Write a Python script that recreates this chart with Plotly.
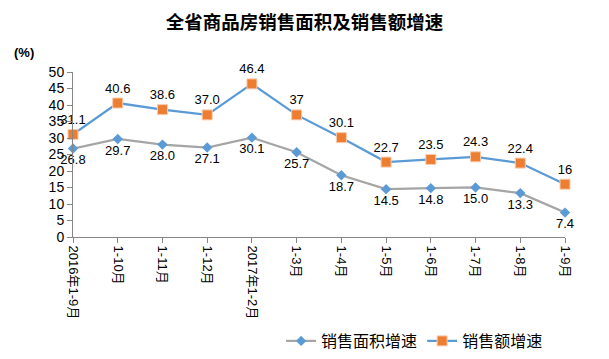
import plotly.graph_objects as go

categories = ["2016年1-9月", "1-10月", "1-11月", "1-12月", "2017年1-2月", "1-3月",
              "1-4月", "1-5月", "1-6月", "1-7月", "1-8月", "1-9月"]
area_growth = [26.8, 29.7, 28.0, 27.1, 30.1, 25.7, 18.7, 14.5, 14.8, 15.0, 13.3, 7.4]
area_labels = ["26.8", "29.7", "28.0", "27.1", "30.1", "25.7", "18.7", "14.5", "14.8", "15.0", "13.3", "7.4"]
amount_growth = [31.1, 40.6, 38.6, 37.0, 46.4, 37, 30.1, 22.7, 23.5, 24.3, 22.4, 16]
amount_labels = ["31.1", "40.6", "38.6", "37.0", "46.4", "37", "30.1", "22.7", "23.5", "24.3", "22.4", "16"]

FONT = "Liberation Sans, Noto Sans CJK SC, sans-serif"
CJK = "Noto Sans CJK SC, sans-serif"
x = list(range(len(categories)))

# The page body has an 8px margin, so the figure is sized to fit inside the window.
W, H = 593, 343
L, T, R, B = 65, 64, 36, 114
PW, PH = W - L - R, H - T - B

fig = go.Figure()
fig.add_trace(go.Scatter(
    x=x, y=area_growth, name="销售面积增速", mode="lines+markers+text",
    line=dict(color="#A5A5A5", width=2.25),
    marker=dict(symbol="diamond", size=8, color="#5B9BD5"),
    text=area_labels, textposition="bottom center",
    textfont=dict(size=13, color="#000000", family=FONT),
    cliponaxis=False,
))
fig.add_trace(go.Scatter(
    x=x, y=amount_growth, name="销售额增速", mode="lines+markers+text",
    line=dict(color="#5B9BD5", width=2.25),
    marker=dict(symbol="square", size=10, color="#ED7D31", line=dict(color="#F8CBAD", width=1)),
    text=amount_labels, textposition="top center",
    textfont=dict(size=13, color="#000000", family=FONT),
    cliponaxis=False,
))

fig.update_layout(
    width=W, height=H,
    margin=dict(l=L, r=R, t=T, b=B, autoexpand=False),
    paper_bgcolor="white", plot_bgcolor="white",
    font=dict(family=FONT, size=13, color="#000000"),
    title=dict(text="<b>全省商品房销售面积及销售额增速</b>", x=0.5, xanchor="center",
               y=1 - 15 / H, yanchor="middle",
               font=dict(size=18.5, family=CJK, color="#000000")),
    showlegend=True,
    legend=dict(orientation="h", x=0.423, y=(237 - 341) / PH, xanchor="left", yanchor="middle",
                font=dict(size=16, family=CJK),
                itemwidth=30, tracegroupgap=0, bgcolor="rgba(0,0,0,0)"),
    xaxis=dict(
        range=[0, len(categories) - 1], tickmode="array", tickvals=x, ticktext=categories,
        tickangle=90, ticks="outside", ticklen=5, tickcolor="#868686", automargin=False,
        showline=True, linecolor="#868686", linewidth=1, showgrid=False, zeroline=False,
        tickfont=dict(size=13, family=FONT),
    ),
    yaxis=dict(
        range=[0, 50], dtick=5, ticks="outside", ticklen=5, tickcolor="#868686", automargin=False,
        showline=True, linecolor="#868686", linewidth=1, showgrid=False, zeroline=False,
        tickfont=dict(size=14, family=FONT),
    ),
    annotations=[dict(text="<b>(%)</b>", x=(16 - L) / PW, y=(237 - 52) / PH,
                      xref="paper", yref="paper", xanchor="center", yanchor="middle",
                      showarrow=False, font=dict(size=13, family=FONT))],
)

fig.write_html("out.html")
